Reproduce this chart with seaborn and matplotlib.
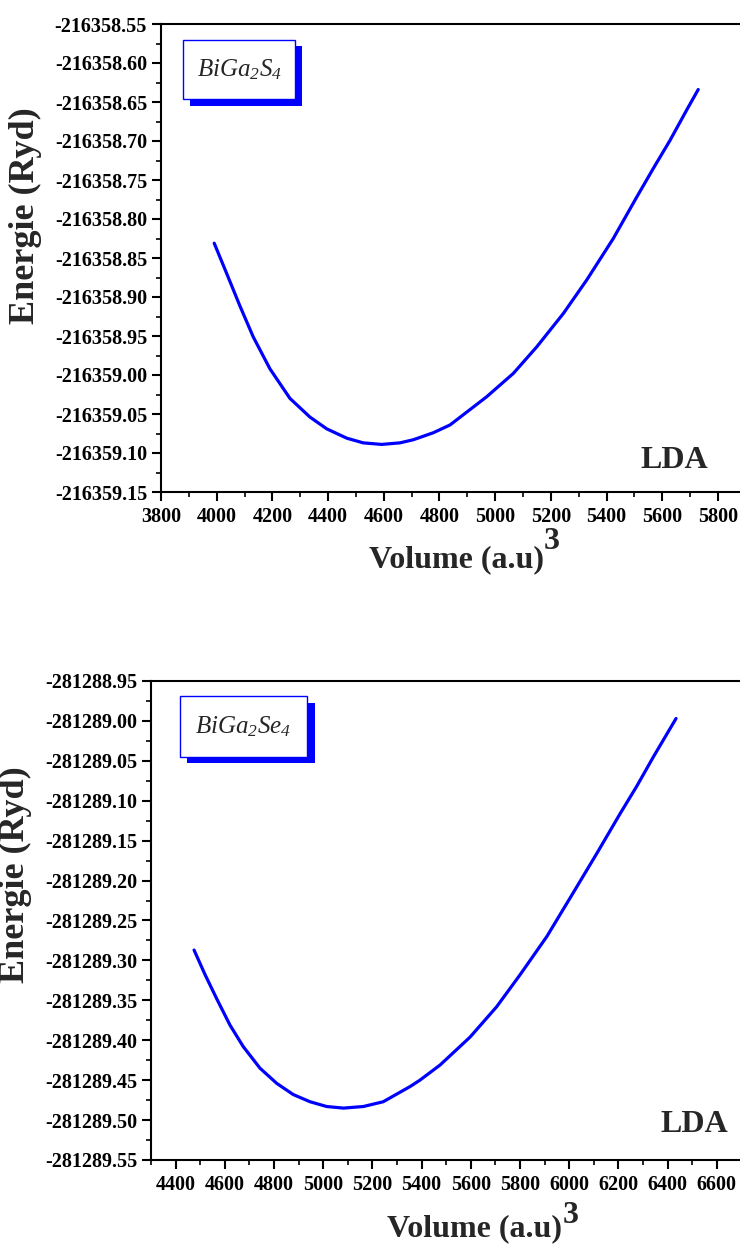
import matplotlib
matplotlib.use("Agg")
import matplotlib.pyplot as plt
import seaborn as sns
from matplotlib.ticker import MultipleLocator, FormatStrFormatter
from matplotlib.patches import Rectangle

# ---------------- data ----------------
top_volume = [3991, 4036, 4084, 4131, 4191, 4263, 4335, 4395, 4467, 4526, 4592, 4658, 4706,
              4778, 4838, 4969, 5065, 5149, 5245, 5329, 5424, 5508, 5568, 5628, 5688, 5729]
top_energy = [-216358.831, -216358.870, -216358.912, -216358.951, -216358.992, -216359.030,
              -216359.054, -216359.069, -216359.081, -216359.087, -216359.089, -216359.087,
              -216359.083, -216359.074, -216359.064, -216359.028, -216358.998, -216358.964,
              -216358.921, -216358.878, -216358.825, -216358.772, -216358.735, -216358.699,
              -216358.660, -216358.634]

bot_volume = [4475, 4520, 4567, 4621, 4675, 4743, 4811, 4878, 4946, 5014, 5082, 5163, 5244,
              5353, 5393, 5475, 5597, 5705, 5800, 5909, 6003, 6112, 6207, 6274, 6342, 6434]
bot_energy = [-281289.287, -281289.318, -281289.348, -281289.381, -281289.408, -281289.435,
              -281289.454, -281289.468, -281289.477, -281289.483, -281289.485, -281289.483,
              -281289.477, -281289.458, -281289.450, -281289.431, -281289.396, -281289.358,
              -281289.318, -281289.270, -281289.222, -281289.166, -281289.116, -281289.082,
              -281289.045, -281288.997]

top_compound = r"$BiGa_2S_4$"
bot_compound = r"$BiGa_2Se_4$"
method_label = "LDA"
x_label = "Volume (a.u)"
y_label = "Energie (Ryd)"

# ---------------- style ----------------
sns.set_theme(style="ticks")
plt.rcParams["font.family"] = ["Liberation Serif", "DejaVu Serif"]
plt.rcParams["font.weight"] = "bold"
plt.rcParams["mathtext.fontset"] = "custom"
plt.rcParams["mathtext.rm"] = "Liberation Serif:style=italic:weight=normal"
plt.rcParams["mathtext.it"] = "Liberation Serif:style=italic:weight=normal"
plt.rcParams["mathtext.bf"] = "Liberation Serif:weight=bold"

W, H = 740, 1245
fig = plt.figure(figsize=(W / 100, H / 100), dpi=100)


def fx(px):
    return px / W


def fy(py):
    return 1 - py / H


def make_panel(rect_px, xlim, ylim, vol, en, compound, box_px, shadow_px,
               ylab_pos, xlab_pos, lda_pos, xmaj, xmin, sup_offset):
    l, t, r, b = rect_px
    ax = fig.add_axes([fx(l), fy(b), fx(r) - fx(l), fy(t) - fy(b)])
    sns.lineplot(x=vol, y=en, ax=ax, color="#0000ff", linewidth=2.3,
                 sort=True, estimator=None)
    ax.set_xlim(*xlim)
    ax.set_ylim(*ylim)
    ax.xaxis.set_major_locator(MultipleLocator(xmaj))
    ax.xaxis.set_minor_locator(MultipleLocator(xmin))
    ax.yaxis.set_major_locator(MultipleLocator(0.05))
    ax.yaxis.set_minor_locator(MultipleLocator(0.025))
    ax.yaxis.set_major_formatter(FormatStrFormatter("%.2f"))
    ax.xaxis.set_major_formatter(FormatStrFormatter("%d"))
    ax.spines["right"].set_visible(False)
    for s in ["left", "bottom", "top"]:
        ax.spines[s].set_linewidth(1.5)
        ax.spines[s].set_color("black")
    ax.tick_params(axis="both", which="major", direction="out", length=6.5, width=1.5,
                   labelsize=14.5, color="black", labelcolor="black")
    ax.tick_params(axis="x", which="major", pad=4.5)
    ax.tick_params(axis="y", which="major", pad=3.5)
    ax.tick_params(axis="both", which="minor", direction="out", length=3.8, width=1.2,
                   color="black")
    ax.tick_params(top=False, right=False, which="both")
    for lab in ax.get_xticklabels() + ax.get_yticklabels():
        lab.set_fontweight("bold")

    ax.set_ylabel(y_label, fontsize=26, fontweight="bold")
    ax.yaxis.set_label_coords(*ylab_pos)
    ax.set_xlabel(x_label, fontsize=23, fontweight="bold")
    ax.xaxis.set_label_coords(*xlab_pos)
    ax.annotate("3", xy=(1.0, 1.0), xycoords=ax.xaxis.label, xytext=(0, sup_offset),
                textcoords="offset points", ha="left", va="bottom",
                fontsize=23, fontweight="bold")

    ax.text(lda_pos[0], lda_pos[1], method_label, transform=ax.transAxes,
            ha="right", va="baseline", fontsize=23, fontweight="bold")

    # legend-like box with blue shadow
    sx0, sy0, sx1, sy1 = shadow_px
    fig.patches.append(Rectangle((fx(sx0), fy(sy1)), fx(sx1) - fx(sx0), fy(sy0) - fy(sy1),
                                 transform=fig.transFigure, facecolor="#0000ff",
                                 edgecolor="none", zorder=5))
    bx0, by0, bx1, by1 = box_px
    fig.patches.append(Rectangle((fx(bx0), fy(by1)), fx(bx1) - fx(bx0), fy(by0) - fy(by1),
                                 transform=fig.transFigure, facecolor="white",
                                 edgecolor="#0000ff", linewidth=1.0, zorder=6))
    fig.text(fx((bx0 + bx1) / 2), fy((by0 + by1) / 2), compound, ha="center", va="center",
             fontsize=18, fontweight="normal", zorder=7)
    return ax


make_panel((161, 24, 740, 492), (3800, 5879), (-216359.15, -216358.55),
           top_volume, top_energy, top_compound,
           box_px=(183, 40, 295, 99), shadow_px=(190, 46, 302, 106),
           ylab_pos=(-0.2055, 0.59), xlab_pos=(0.51, -0.113),
           lda_pos=(0.945, 0.051), xmaj=200, xmin=100, sup_offset=-8)

make_panel((151, 681, 740, 1160), (4300, 6694), (-281289.55, -281288.95),
           bot_volume, bot_energy, bot_compound,
           box_px=(180, 696, 307, 757), shadow_px=(187, 703, 315, 763),
           ylab_pos=(-0.202, 0.595), xlab_pos=(0.55, -0.114),
           lda_pos=(0.98, 0.058), xmaj=200, xmin=100, sup_offset=-11)

fig.savefig("out.png", dpi=100)
